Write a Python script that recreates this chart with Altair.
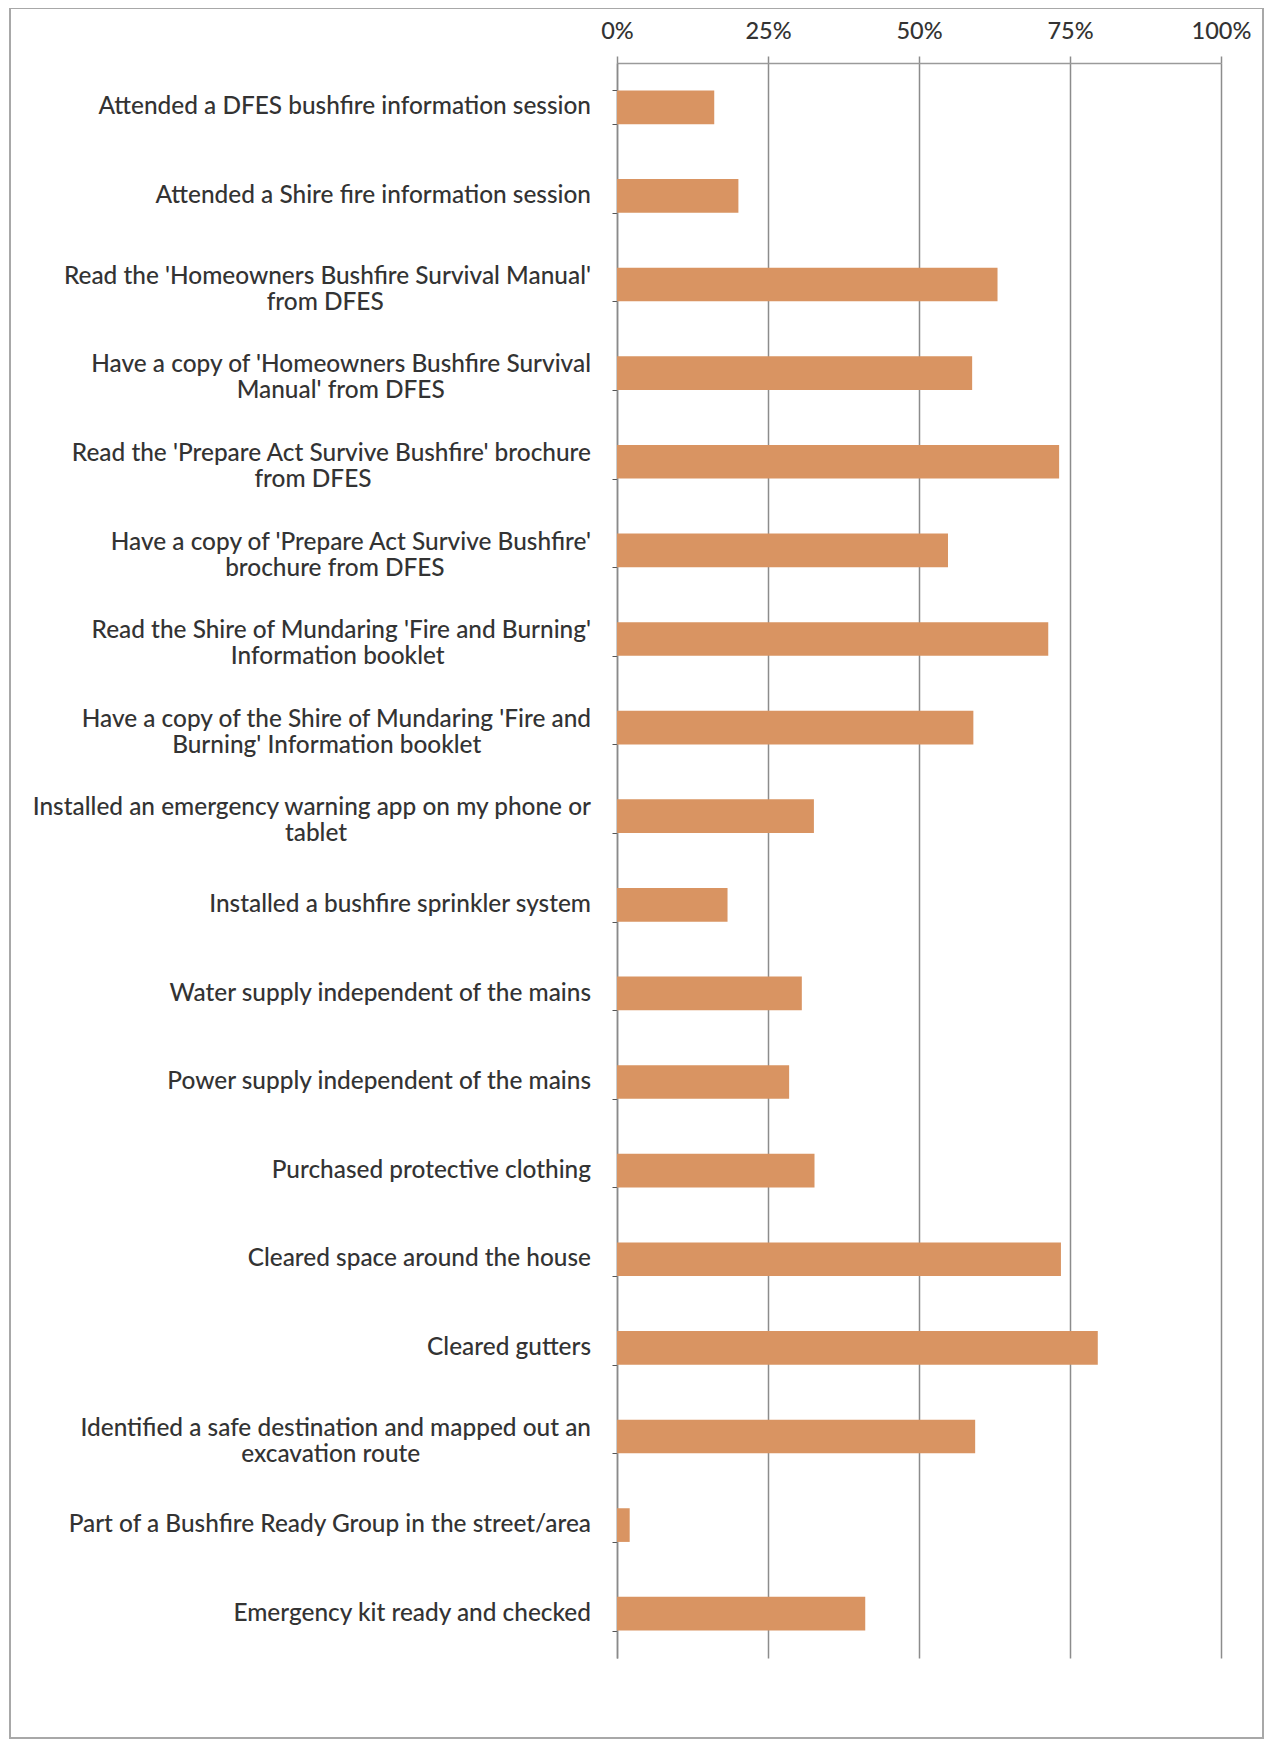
import altair as alt
import pandas as pd

categories = [
    "Attended a DFES bushfire information session",
    "Attended a Shire fire information session",
    "Read the 'Homeowners Bushfire Survival Manual'\nfrom DFES",
    "Have a copy of 'Homeowners Bushfire Survival\nManual' from DFES",
    "Read the 'Prepare Act Survive Bushfire' brochure\nfrom DFES",
    "Have a copy of 'Prepare Act Survive Bushfire'\nbrochure from DFES",
    "Read the Shire of Mundaring 'Fire and Burning'\nInformation booklet",
    "Have a copy of the Shire of Mundaring 'Fire and\nBurning' Information booklet",
    "Installed an emergency warning app on my phone or\ntablet",
    "Installed a bushfire sprinkler system",
    "Water supply independent of the mains",
    "Power supply independent of the mains",
    "Purchased protective clothing",
    "Cleared space around the house",
    "Cleared gutters",
    "Identified a safe destination and mapped out an\nexcavation route",
    "Part of a Bushfire Ready Group in the street/area",
    "Emergency kit ready and checked",
]
values = [16.1, 20.1, 63.0, 58.8, 73.2, 54.8, 71.4, 59.0, 32.6, 18.3,
          30.6, 28.5, 32.7, 73.5, 79.6, 59.3, 2.1, 41.1]
x_ticks = [0, 25, 50, 75, 100]

df = pd.DataFrame({"item": categories, "pct": values})

FONT = "Lato"
TEXT = "#333333"
GRID = "#8c8c8c"
BAR = "#D99462"

W, H = 604, 1595

y_scale = alt.Scale(paddingInner=0.62, paddingOuter=0.31)

bars = alt.Chart(df).mark_bar(color=BAR).encode(
    x=alt.X(
        "pct:Q",
        title=None,
        scale=alt.Scale(domain=[0, 100], nice=False, zero=True),
        axis=alt.Axis(
            orient="top",
            values=x_ticks,
            labelExpr="datum.value + '%'",
            labelFlush=False,
            grid=True,
            gridColor=GRID,
            gridWidth=1.5,
            domainColor="#9a9a9a",
            domainWidth=1.5,
            tickColor=GRID,
            tickWidth=1.5,
            tickSize=7,
            labelPadding=25,
            labelBaseline="middle",
            labelFont=FONT,
            labelFontSize=23.5,
            labelFontWeight=500,
            labelColor=TEXT,
        ),
    ),
    y=alt.Y(
        "item:N",
        sort=categories,
        title=None,
        scale=y_scale,
        axis=alt.Axis(
            labels=False,
            tickSize=5,
            tickColor="#555555",
            tickBand="extent",
            domainColor="#8a8a8a",
            domainWidth=1.5,
            grid=False,
        ),
    ),
)

# category labels: wrapped second line centred under the first (as in the original);
# trailing en spaces (kept by a word joiner) shift the right-aligned line leftwards
S = "split(datum.item, '\\n')"
lines_expr = (
    f"length({S}) > 1 ? {S}[0] + '\\n' + {S}[1] + "
    f"pad('', round(0.46 * (length({S}[0]) - length({S}[1]))), '\u2002') + '\u2060' : datum.item"
)
off_expr = f"length({S}) > 1 ? 9 : 17"

labels = (
    alt.Chart(df)
    .transform_calculate(lines=lines_expr, off=off_expr)
    .mark_text(
        align="right",
        baseline="middle",
        font=FONT,
        fontSize=24.4,
        fontWeight=500,
        lineHeight=26,
        lineBreak="\n",
        color=TEXT,
    )
    .encode(
        y=alt.Y("item:N", sort=categories, title=None, scale=y_scale),
        x=alt.value(-26),
        yOffset=alt.YOffset("off:Q", scale=None),
        text="lines:N",
    )
)

frame = alt.Chart(pd.DataFrame({"f": [0]})).mark_rect(
    filled=False, stroke="#a8a8a8", strokeWidth=2
).encode(
    x=alt.value(-607),
    x2=alt.value(646),
    y=alt.value(-55),
    y2=alt.value(1675),
)

chart = (
    alt.layer(bars, labels, frame)
    .properties(
        width=W,
        height=H,
        padding={"left": 609, "top": 55, "right": 44, "bottom": 82},
        autosize=alt.AutoSizeParams(type="none"),
        background="white",
    )
    .configure_view(strokeWidth=0)
)

chart.save("out.html", embed_options={"renderer": "svg", "actions": False})
